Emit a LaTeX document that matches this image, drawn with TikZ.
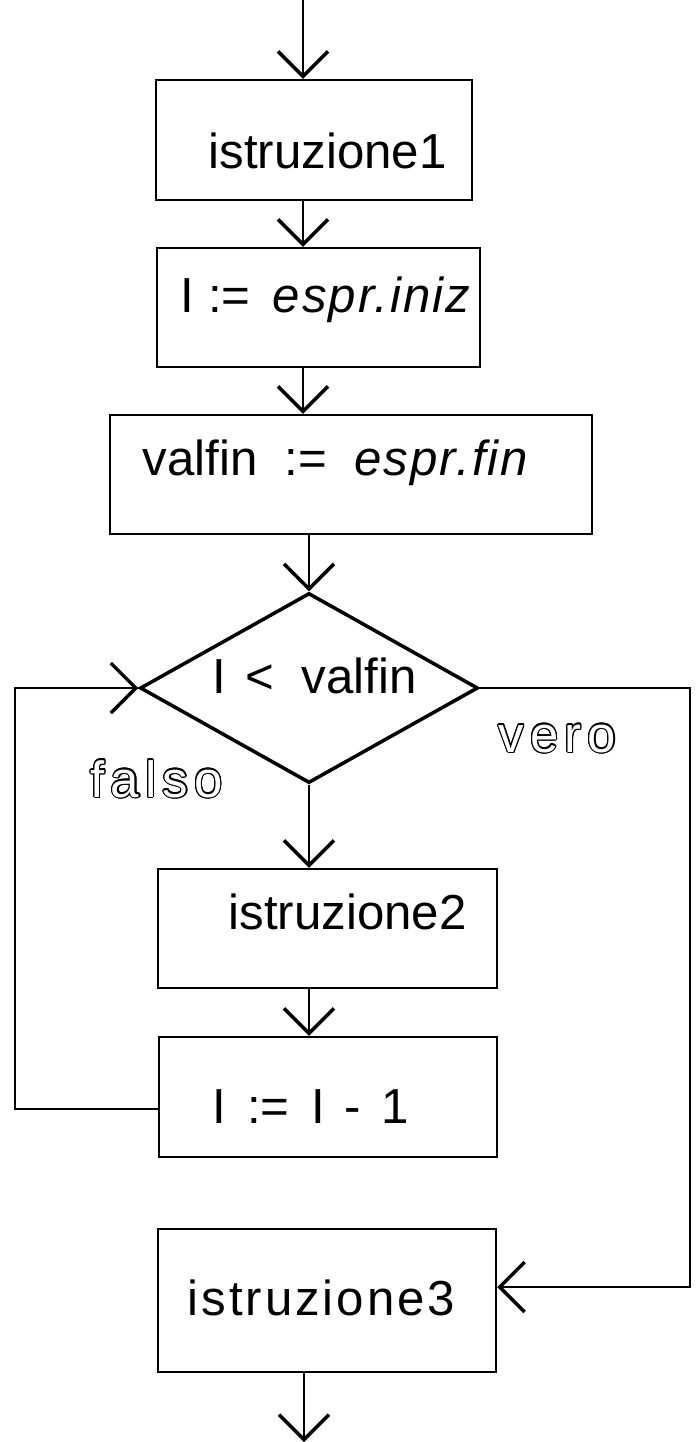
\documentclass[tikz,border=0pt]{standalone}
\usepackage{fontspec}
\setmainfont{Liberation Sans}
\newfontfamily\spacedfont[LetterSpace=12]{Liberation Sans}
\usepackage{contour}
\contourlength{0.35pt}
\usetikzlibrary{arrows.meta}
\usetikzlibrary{shapes.geometric}
\tikzstyle{box}=[draw, line width=0.7pt, inner sep=0pt]
\tikzstyle{test}=[draw, diamond, line width=1pt, inner sep=0pt]
\tikzstyle{txt}=[anchor=base west, inner sep=0pt, font=\fontsize{14}{17}\selectfont]
\tikzstyle{branch}=[anchor=base west, inner sep=0pt, font=\fontsize{14.5}{17}\selectfont\spacedfont]
\tikzstyle{flow}=[line width=0.6pt, -{Straight Barb[length=0.25cm,width=0.5cm,line width=1pt]}]
\newcommand{\ital}[1]{{\itshape\addfontfeature{LetterSpace=4}#1}}
\newcommand{\hollow}[1]{\contour{black}{\textcolor{white}{#1}}}

\begin{document}
\begin{tikzpicture}
	\useasboundingbox (0,0) rectangle (6.97,-14.42);
	\coordinate (top) at (3.03,0);
	\coordinate (bottom) at (3.04,-14.42);
	\coordinate (mid) at (3.09,0);
	\coordinate (loop) at (0.15,0);
	\coordinate (exit) at (6.90,0);

	\node[box, minimum width=3.16cm, minimum height=1.20cm] (istr1) at (3.14,-1.40) {};
	\node[box, minimum width=3.23cm, minimum height=1.19cm] (init) at (3.185,-3.075) {};
	\node[box, minimum width=4.82cm, minimum height=1.19cm] (fin) at (3.51,-4.745) {};
	\node[test, minimum width=3.38cm, minimum height=1.90cm] (cond) at (3.09,-6.88) {};
	\node[box, minimum width=3.39cm, minimum height=1.19cm] (istr2) at (3.275,-9.285) {};
	\node[box, minimum width=3.38cm, minimum height=1.20cm] (decr) at (3.28,-10.97) {};
	\node[box, minimum width=3.38cm, minimum height=1.43cm] (istr3) at (3.27,-13.005) {};

	\node[txt] at (2.08,-1.68) {istruzione1};
	\node[txt] at (1.80,-3.12) {I := \hspace{2.5pt}\ital{espr.iniz}};
	\node[txt] at (1.42,-4.75) {valfin\ \ :=\ \ \ital{espr.fin}};
	\node[txt] at (2.12,-6.93) {I\hspace{1.5pt} <\hspace{4pt} valfin};
	\node[txt] at (2.28,-9.29) {istruzione2};
	\node[txt] at (2.12,-11.23) {I\hspace{2pt} := \hspace{2.5pt}I \hspace{1.5pt}- \hspace{2pt}1};
	\node[txt] at (1.87,-13.15) {\addfontfeature{LetterSpace=6}istruzione3};
	\node[branch] at (0.90,-7.97) {\hollow{falso}};
	\node[branch] at (4.98,-7.52) {\hollow{vero}};

	\draw[flow] (top) -- (istr1.north -| top);
	\draw[flow] (istr1.south -| top) -- (init.north -| top);
	\draw[flow] (init.south -| top) -- (fin.north -| top);
	\draw[flow] (fin.south -| mid) -- (cond.north);
	\draw[flow] (cond.south) -- (istr2.north -| cond.south);
	\draw[flow] (istr2.south -| cond.south) -- (decr.north -| cond.south);
	\draw[flow] ([yshift=-0.12cm]decr.west) -- ([yshift=-0.12cm]decr.west -| loop) -- (cond.west -| loop) -- (cond.west);
	\draw[flow] (cond.east) -- (cond.east -| exit) -- ([yshift=0.135cm]istr3.east -| exit) -- ([yshift=0.135cm]istr3.east);
	\draw[flow] (istr3.south -| bottom) -- (bottom);
\end{tikzpicture}
\end{document}
